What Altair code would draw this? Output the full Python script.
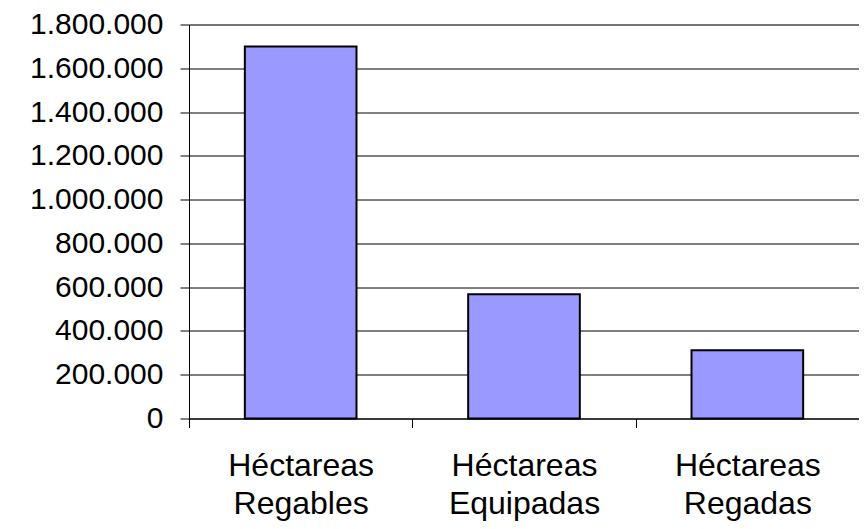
import altair as alt
import pandas as pd

categories = ["Héctareas|Regables", "Héctareas|Equipadas", "Héctareas|Regadas"]
values = [1700000, 568000, 312000]
y_ticks = [0, 200000, 400000, 600000, 800000, 1000000, 1200000, 1400000, 1600000, 1800000]

df = pd.DataFrame({"cat": categories, "val": values})

chart = alt.Chart(df).mark_bar(
    color="#9999FF", stroke="black", strokeWidth=2,
    width=alt.RelativeBandSize(0.5)
).encode(
    x=alt.X("cat:N", sort=categories, title=None,
            scale=alt.Scale(paddingInner=0, paddingOuter=0),
            axis=alt.Axis(labelAngle=0, tickBand="extent", tickSize=9, tickColor="black",
                          domainColor="black", labelFont="Liberation Sans", labelFontSize=32,
                          labelColor="black", labelPadding=23, labelLineHeight=38,
                          labelExpr="split(datum.label, '|')", grid=False, labelBaseline="top")),
    y=alt.Y("val:Q", title=None,
            scale=alt.Scale(domain=[0, 1800000], nice=False),
            axis=alt.Axis(values=y_ticks, tickSize=9, tickColor="black", domainColor="black",
                          gridColor="black", gridOpacity=1, labelFont="Liberation Sans",
                          labelFontSize=30, labelColor="black", labelPadding=17,
                          labelExpr="replace(replace(format(datum.value, ','), ',', '.'), ',', '.')")),
).properties(
    width=670, height=394,
    autosize=alt.AutoSizeParams(type="none"),
    padding={"left": 181, "top": 16.5, "right": 0, "bottom": 102.5},
).configure_view(stroke=None).configure(background="white")

chart.save("out.html", embed_options={"renderer": "svg", "actions": False})
